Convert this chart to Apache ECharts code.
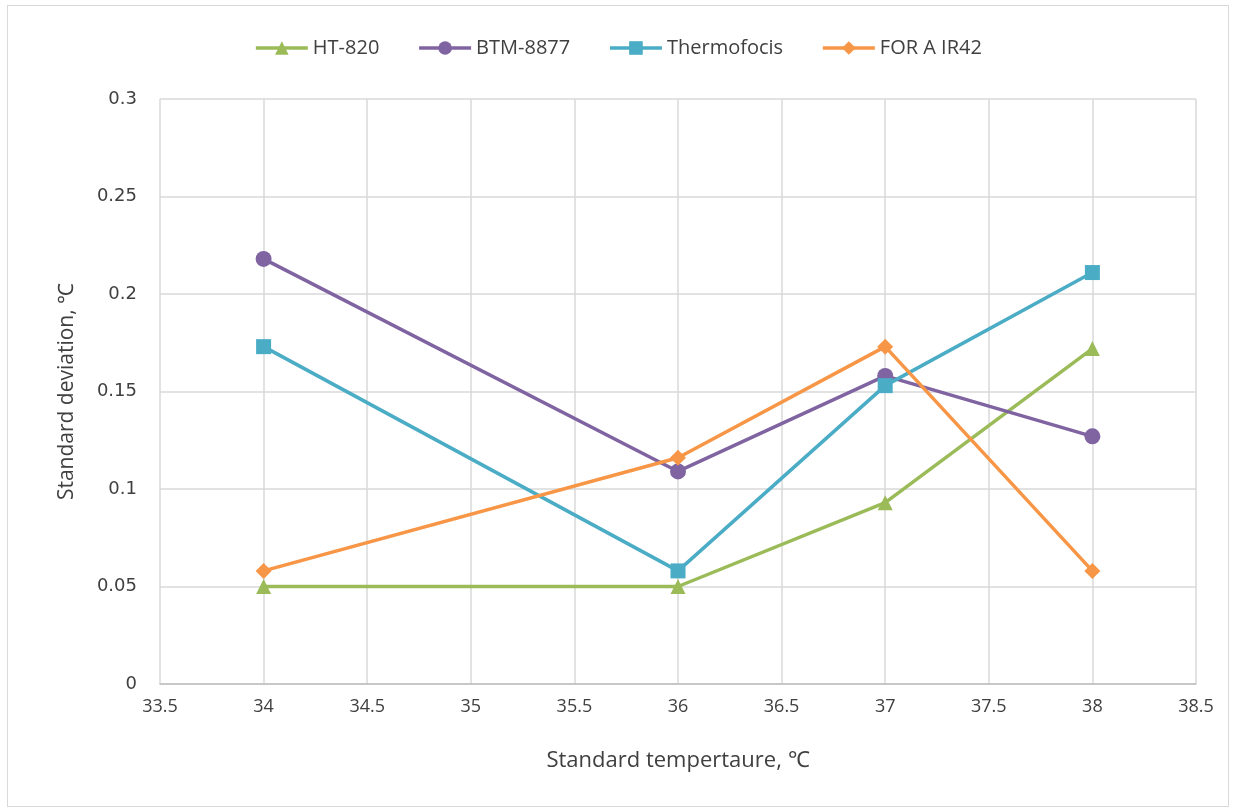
<!DOCTYPE html>
<html>
<head>
<meta charset="utf-8">
<script src="https://cdn.jsdelivr.net/npm/echarts@6/dist/echarts.min.js"></script>
<style>
  html, body { margin: 0; padding: 0; background: #fff; }
  #frame { position: absolute; left: 7px; top: 5px; width: 1222px; height: 802px; border: 1px solid #d9d9d9; box-sizing: border-box; }
  #chart { position: absolute; left: 0; top: 0; width: 1236px; height: 812px; }
</style>
</head>
<body>
<div id="frame"></div>
<div id="chart"></div>
<script>
// Standard temperatures (°C) at which each thermometer was tested
const temperatures = [34, 36, 37, 38];

// Standard deviation of readings (°C) per thermometer
const ht820       = [0.050, 0.050, 0.093, 0.172];
const btm8877     = [0.218, 0.109, 0.158, 0.127];
const thermofocis = [0.173, 0.058, 0.153, 0.211];
const forAIr42    = [0.058, 0.116, 0.173, 0.058];

const seriesNames = ['HT-820', 'BTM-8877', 'Thermofocis', 'FOR A IR42'];
const seriesData = [ht820, btm8877, thermofocis, forAIr42];
const seriesColors = ['#9BBB59', '#8064A2', '#4BACC6', '#F79646'];
const seriesSymbols = ['triangle', 'circle', 'rect', 'diamond'];
const symbolSizes = [15, 16, 15, 16];

const pairs = arr => temperatures.map((t, i) => [t, arr[i]]);

const chart = echarts.init(document.getElementById('chart'), null, { renderer: 'canvas' });

const textFont = '"Open Sans", sans-serif';

chart.setOption({
  backgroundColor: 'transparent',
  animation: false,
  legend: {
    top: 33,
    left: 'center',
    itemWidth: 52,
    itemHeight: 17,
    itemGap: 38,
    lineStyle: { width: 3.5 },
    textStyle: { fontFamily: textFont, fontSize: 20, color: '#404040' },
    data: seriesNames
  },
  grid: { left: 160, right: 40, top: 99, bottom: 128 },
  xAxis: {
    type: 'value',
    min: 33.5,
    max: 38.5,
    interval: 0.5,
    name: 'Standard tempertaure, ℃',
    nameLocation: 'middle',
    nameGap: 66,
    nameTextStyle: { fontFamily: textFont, fontSize: 22, color: '#404040' },
    axisLine: { show: true, lineStyle: { color: '#bfbfbf', width: 1.5 } },
    axisTick: { show: false },
    axisLabel: { fontFamily: textFont, fontSize: 18, color: '#404040', margin: 14 },
    splitLine: { show: true, lineStyle: { color: '#d9d9d9', width: 1.5 } }
  },
  yAxis: {
    type: 'value',
    min: 0,
    max: 0.3,
    interval: 0.05,
    name: 'Standard deviation, ℃',
    nameLocation: 'middle',
    nameGap: 82,
    nameTextStyle: { fontFamily: textFont, fontSize: 21, color: '#404040' },
    axisLine: { show: false },
    axisTick: { show: false },
    axisLabel: { fontFamily: '"DejaVu Sans", sans-serif', fontSize: 18, color: '#404040', margin: 23 },
    splitLine: { show: true, lineStyle: { color: '#d9d9d9', width: 1.5 } }
  },
  series: seriesNames.map((name, i) => ({
    name,
    type: 'line',
    data: pairs(seriesData[i]),
    symbol: seriesSymbols[i],
    symbolSize: symbolSizes[i],
    showAllSymbol: true,
    color: seriesColors[i],
    lineStyle: { color: seriesColors[i], width: 3.5 },
    itemStyle: { color: seriesColors[i], borderWidth: 0 }
  }))
});
</script>
</body>
</html>
